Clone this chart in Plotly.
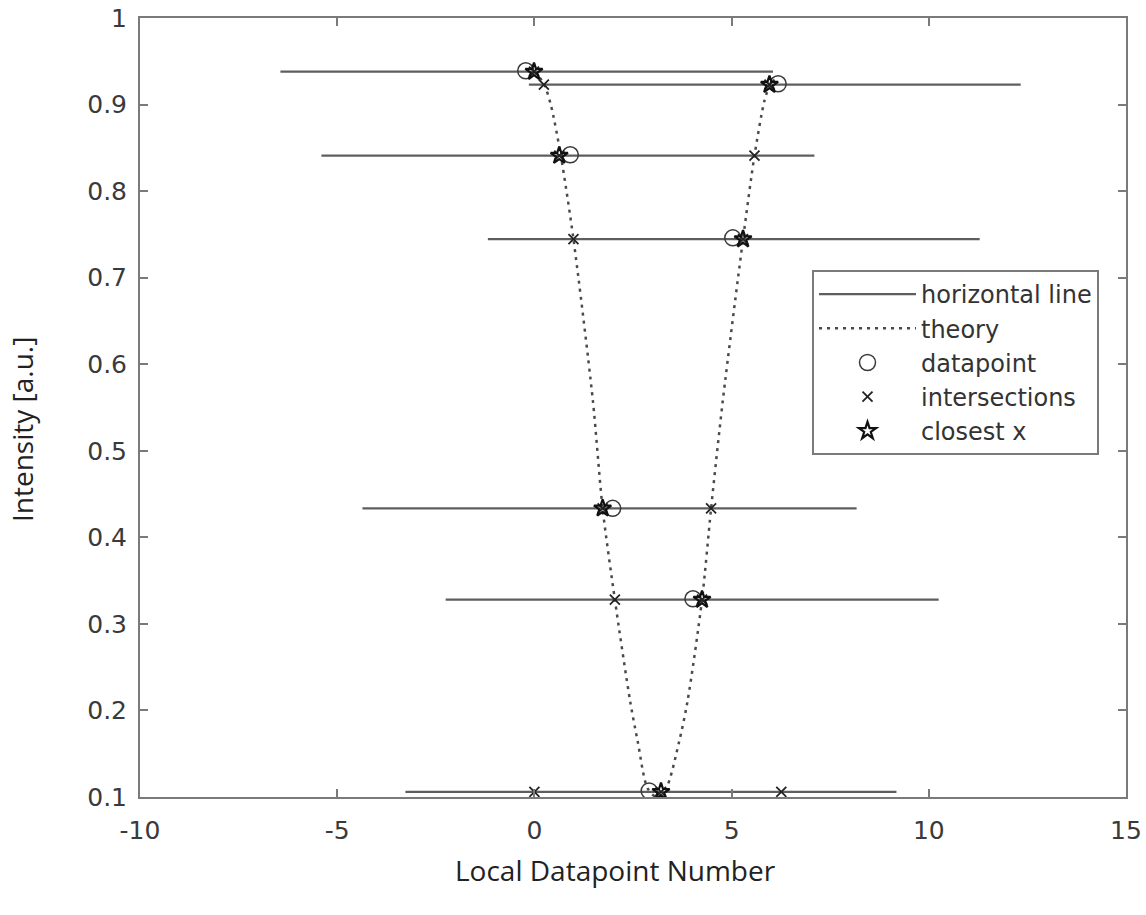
import plotly.graph_objects as go

# ---- data ----
line_y = [0.938, 0.923, 0.841, 0.7445, 0.4335, 0.328, 0.106]
line_x_start = [-6.44, -0.14, -5.40, -1.18, -4.36, -2.25, -3.27]
line_x_end = [6.05, 12.33, 7.10, 11.29, 8.17, 10.25, 9.18]

theory_x = [0.0, 0.24, 0.42, 0.67, 0.99, 1.48, 1.73, 2.04, 2.43, 2.62, 2.87, 3.1,
            3.34, 3.67, 3.88, 4.25, 4.48, 4.78, 5.29, 5.58, 5.83, 5.97]
theory_y = [0.938, 0.924, 0.899, 0.841, 0.7445, 0.559, 0.4335, 0.328, 0.21, 0.164, 0.11, 0.1,
            0.11, 0.164, 0.21, 0.328, 0.4335, 0.559, 0.7445, 0.841, 0.904, 0.924]

datapoint_x = [-0.22, 6.18, 0.91, 5.03, 1.985, 4.02, 2.91]
datapoint_y = [0.939, 0.924, 0.842, 0.746, 0.4335, 0.329, 0.107]

intersect_x = [-0.01, 0.24, 5.96, 0.63, 5.58, 0.99, 5.29, 1.73, 4.48, 2.04, 4.25, 0.0, 3.21, 6.26]
intersect_y = [0.938, 0.923, 0.923, 0.841, 0.841, 0.7445, 0.7445, 0.4335, 0.4335, 0.328, 0.328,
               0.106, 0.106, 0.106]

closest_x = [-0.01, 5.96, 0.63, 5.29, 1.73, 4.25, 3.21]
closest_y = [0.938, 0.923, 0.841, 0.7445, 0.4335, 0.328, 0.106]

x_ticks = [-10, -5, 0, 5, 10, 15]
x_tick_labels = ["-10", "-5", "0", "5", "10", "15"]
y_ticks = [0.1, 0.2, 0.3, 0.4, 0.5, 0.6, 0.7, 0.8, 0.9, 1.0]
y_tick_labels = ["0.1", "0.2", "0.3", "0.4", "0.5", "0.6", "0.7", "0.8", "0.9", "1"]

x_title = "Local Datapoint Number"
y_title = "Intensity [a.u.]"

# ---- layout geometry (pixels) ----
W, H = 1146, 915
L, R, T, B = 140, 20, 18, 118
pw, ph = W - L - R, H - T - B

# ---- build figure ----
hx, hy = [], []
for xs, xe, yv in zip(line_x_start, line_x_end, line_y):
    hx += [xs, xe, None]
    hy += [yv, yv, None]

fig = go.Figure()
fig.add_trace(go.Scatter(x=hx, y=hy, mode="lines", name="horizontal line",
                         line=dict(color="#5e5e5e", width=2.3)))
fig.add_trace(go.Scatter(x=theory_x, y=theory_y, mode="lines", name="theory",
                         line=dict(color="#4a4a4a", width=2.5, dash="3px,5px", shape="spline",
                                   smoothing=0.8)))
fig.add_trace(go.Scatter(x=datapoint_x, y=datapoint_y, mode="markers", name="datapoint",
                         marker=dict(symbol="circle-open", size=16, color="#3a3a3a",
                                     line=dict(width=1.5, color="#3a3a3a"))))
fig.add_trace(go.Scatter(x=intersect_x, y=intersect_y, mode="markers", name="intersections",
                         marker=dict(symbol="x-thin-open", size=10, color="#222222",
                                     line=dict(width=1.8, color="#222222"))))
fig.add_trace(go.Scatter(x=closest_x, y=closest_y, mode="markers", name="closest x",
                         marker=dict(symbol="star-open", size=13, color="#111111",
                                     line=dict(width=2.2, color="#111111"))))

tick_font = dict(family="DejaVu Sans, Liberation Sans, sans-serif", size=25, color="#3a3a3a")
title_font = dict(family="Open Sans, Noto Sans, sans-serif", size=28, color="#222222")

fig.update_layout(
    width=W, height=H,
    margin=dict(l=L, r=R, t=T, b=B, autoexpand=False),
    paper_bgcolor="white", plot_bgcolor="white",
    showlegend=True,
    legend=dict(x=(812 - L) / pw, y=1 - (270 - T) / ph, xanchor="left", yanchor="top",
                bgcolor="white", bordercolor="#7a7a7a", borderwidth=2,
                font=dict(family="DejaVu Sans, Liberation Sans, sans-serif", size=24,
                          color="#333333"),
                itemwidth=97, tracegroupgap=0),
    xaxis=dict(range=[-10, 15], tickmode="array", tickvals=x_ticks, ticktext=x_tick_labels,
               ticks="inside", ticklen=8, tickcolor="#7a7a7a", tickwidth=1.5,
               showline=True, linecolor="#7a7a7a", linewidth=2, mirror="allticks",
               showgrid=False, zeroline=False, tickfont=tick_font, ticklabelstandoff=10,
               automargin=False),
    yaxis=dict(range=[0.1, 1.0], tickmode="array", tickvals=y_ticks, ticktext=y_tick_labels,
               ticks="inside", ticklen=8, tickcolor="#7a7a7a", tickwidth=1.5,
               showline=True, linecolor="#7a7a7a", linewidth=2, mirror="allticks",
               showgrid=False, zeroline=False, tickfont=tick_font, ticklabelstandoff=6,
               automargin=False),
    annotations=[
        dict(text=x_title, xref="paper", yref="paper", x=(615 - L) / pw, y=1 - (870 - T) / ph,
             xanchor="center", yanchor="middle", showarrow=False, font=title_font),
        dict(text=y_title, xref="paper", yref="paper", x=(22 - L) / pw, y=1 - (430 - T) / ph,
             xanchor="center", yanchor="middle", showarrow=False, textangle=-90, font=title_font),
    ],
)

fig.write_html("out.html")
